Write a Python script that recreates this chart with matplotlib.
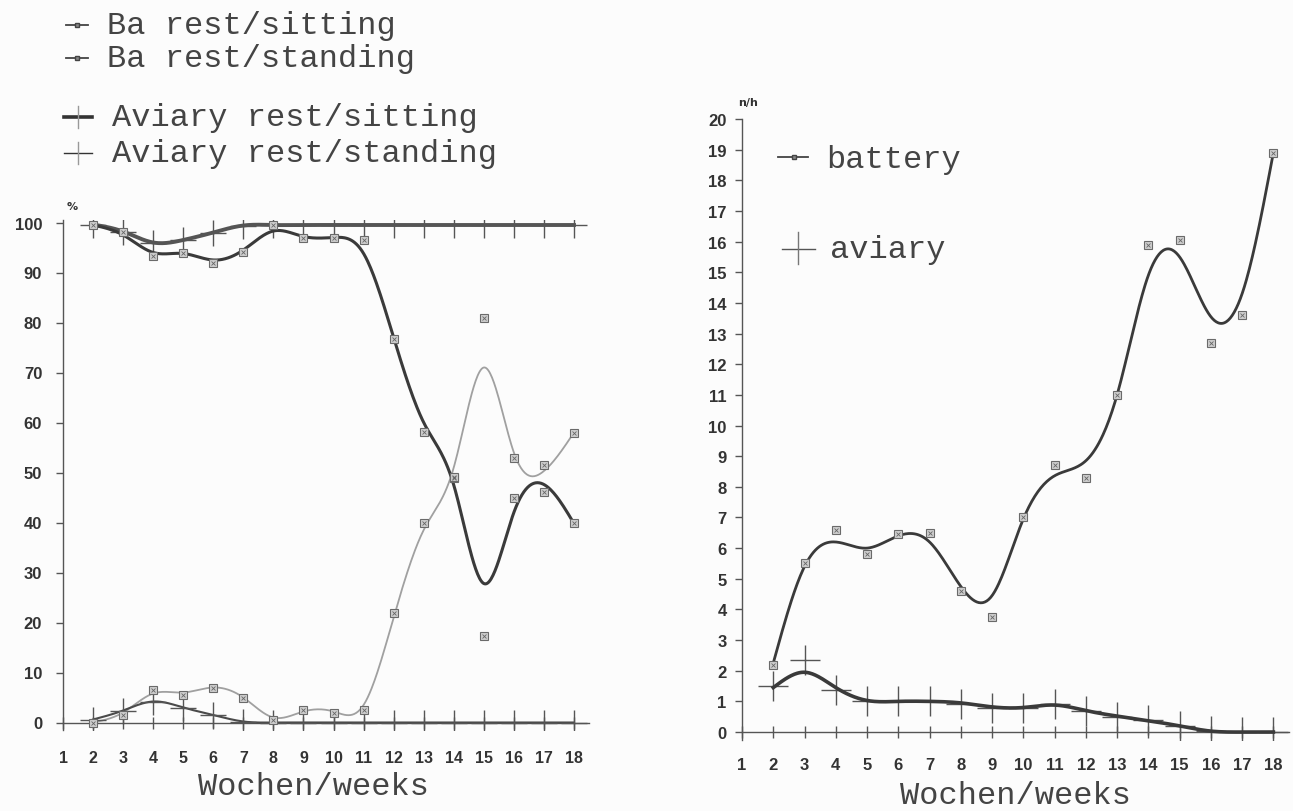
import numpy as np
import matplotlib
matplotlib.use("Agg")
import matplotlib.pyplot as plt
from matplotlib.lines import Line2D

weeks = list(range(2, 19))

# resting behaviour, % of observations (left panel)
ba_sit_pts = [99.5, 98.2, 93.4, 94.0, 92.0, 94.2, 99.5, 97.0, 97.0, 96.6, 76.8, 58.2, 49.2, 17.4, 45.0, 46.2, 40.0]
ba_sit_fit = [99.5, 97.5, 94.0, 93.8, 92.5, 94.5, 98.3, 97.2, 97.0, 93.8, 77.0, 60.0, 47.5, 27.8, 42.0, 47.6, 39.8]
ba_std_pts = [0.0, 1.5, 6.5, 5.5, 7.0, 5.0, 0.5, 2.5, 2.0, 2.5, 22.0, 40.0, 49.0, 81.0, 53.0, 51.5, 58.0]
ba_std_fit = [0.0, 2.0, 5.8, 6.0, 7.0, 5.0, 1.0, 2.2, 2.2, 3.5, 21.0, 38.5, 51.0, 71.0, 54.0, 50.3, 58.0]
av_sit = [99.6, 98.2, 96.0, 96.5, 98.0, 99.4, 99.5, 99.5, 99.5, 99.5, 99.5, 99.5, 99.5, 99.5, 99.5, 99.5, 99.5]
av_std = [0.6, 2.4, 4.2, 3.0, 1.5, 0.2, 0.0, 0.0, 0.0, 0.0, 0.0, 0.0, 0.0, 0.0, 0.0, 0.0, 0.0]

# events per hour (right panel)
bat_pts = [2.2, 5.5, 6.6, 5.8, 6.45, 6.5, 4.6, 3.75, 7.0, 8.7, 8.3, 11.0, 15.9, 16.05, 12.7, 13.6, 18.9]
bat_fit = [2.25, 5.4, 6.2, 6.0, 6.4, 6.2, 4.75, 4.45, 6.95, 8.36, 8.85, 11.0, 14.9, 15.5, 13.55, 14.3, 18.9]
avr_pts = [1.5, 2.35, 1.38, 1.0, 1.0, 1.0, 0.92, 0.8, 0.8, 0.9, 0.7, 0.5, 0.38, 0.2, 0.05, 0.0, 0.0]
avr_fit = [1.45, 1.95, 1.45, 1.03, 1.0, 1.0, 0.95, 0.82, 0.8, 0.88, 0.7, 0.52, 0.37, 0.2, 0.03, 0.0, 0.0]


def smooth(x, y, n=500):
    # natural cubic spline through the given values
    x = np.asarray(x, float)
    a = np.asarray(y, float)
    m = len(x)
    h = np.diff(x)
    A = np.zeros((m, m))
    r = np.zeros(m)
    A[0, 0] = A[-1, -1] = 1
    for i in range(1, m - 1):
        A[i, i - 1] = h[i - 1]
        A[i, i] = 2 * (h[i - 1] + h[i])
        A[i, i + 1] = h[i]
        r[i] = 3 * ((a[i + 1] - a[i]) / h[i] - (a[i] - a[i - 1]) / h[i - 1])
    c = np.linalg.solve(A, r)
    b = (a[1:] - a[:-1]) / h - h * (2 * c[:-1] + c[1:]) / 3
    d = (c[1:] - c[:-1]) / (3 * h)
    xs = np.linspace(x[0], x[-1], n)
    k = np.clip(np.searchsorted(x, xs) - 1, 0, m - 2)
    t = xs - x[k]
    return xs, a[k] + b[k] * t + c[k] * t ** 2 + d[k] * t ** 3


def boxes(ax, x, y):
    ax.plot(x, y, ls="none", marker="s", ms=6, mfc="#cfcfcf", mec="#6a6a6a", mew=0.8, zorder=5)
    ax.plot(x, y, ls="none", marker="x", ms=3.5, mec="#666666", mew=0.6, zorder=6)


mono = "Liberation Mono"
txt = "#444444"
W, H = 1293, 812
fig = plt.figure(figsize=(W / 100, H / 100), dpi=100, facecolor="#fcfcfc")


def px_axes(x0, x1, y_top, y_bot):
    return fig.add_axes([x0 / W, 1 - y_bot / H, (x1 - x0) / W, (y_bot - y_top) / H])


def style(ax):
    ax.set_facecolor("none")
    for s in ("top", "right"):
        ax.spines[s].set_visible(False)
    for s in ("left", "bottom"):
        ax.spines[s].set_color("#555555")
        ax.spines[s].set_linewidth(1.0)
    ax.spines["bottom"].set_position(("data", 0))
    ax.set_xlim(1, 18.5)
    ax.set_xticks(range(1, 19))
    for lab in ax.get_xticklabels() + ax.get_yticklabels():
        lab.set_fontfamily("Liberation Sans")
        lab.set_fontweight("bold")
        lab.set_color("#333333")


# ---- left panel: resting posture ----
ax1 = px_axes(63, 589, 221, 731)
ax1.set_ylim(-1.5, 100.5)
ax1.set_yticks(range(0, 101, 10))
style(ax1)
ax1.tick_params(axis="y", direction="out", length=5, width=1, color="#555555", labelsize=12, pad=10)
ax1.tick_params(axis="x", direction="inout", length=8, width=1, color="#555555", labelsize=11.5, pad=16)

xs, ys = smooth(weeks, ba_std_fit)
ax1.plot(xs, ys, color="#a0a0a0", lw=1.3, zorder=3)
boxes(ax1, weeks, ba_std_pts)
xs, ys = smooth(weeks, ba_sit_fit)
ax1.plot(xs, ys, color="#3a3a3a", lw=2.2, zorder=4)
boxes(ax1, weeks, ba_sit_pts)
xs, ys = smooth(weeks, av_sit)
ax1.plot(xs, ys, color="#555555", lw=2.8, zorder=3)
ax1.plot(weeks, av_sit, ls="none", marker="+", ms=19, mew=1.0, color="#555555", zorder=3)
xs, ys = smooth(weeks, av_std)
ax1.plot(xs, ys, color="#4a4a4a", lw=1.5, zorder=3)
ax1.plot(weeks, av_std, ls="none", marker="+", ms=19, mew=1.0, color="#555555", zorder=3)

fig.text(72 / W, 1 - 207 / H, "%", fontsize=8, fontweight="bold", color="#333333", ha="center", va="center")
fig.text(313 / W, 1 - 787 / H, "Wochen/weeks", family=mono, fontsize=23, color=txt, ha="center", va="center")

# legend of the left panel
legend_left = [
    ("Ba rest/sitting", 26, "box"),
    ("Ba rest/standing", 59, "box"),
    ("Aviary rest/sitting", 118, "thick"),
    ("Aviary rest/standing", 154, "plus"),
]
for label, yy, kind in legend_left:
    yf = 1 - yy / H
    if kind == "box":
        fig.add_artist(Line2D([66 / W, 88 / W], [yf, yf], color="#444444", lw=1.3))
        fig.add_artist(Line2D([77 / W], [yf], marker="s", ms=3.5, mfc="#888888", mec="#444444", ls="none"))
        fig.text(107 / W, yf, label, family=mono, fontsize=23, color=txt, va="center")
    else:
        fig.add_artist(Line2D([64 / W, 92 / W], [yf, yf], color="#333333", lw=2.6 if kind == "thick" else 1.0))
        fig.add_artist(Line2D([78 / W, 78 / W], [yf - 11 / H, yf + 11 / H], color="#999999", lw=1.0))
        fig.text(112 / W, yf, label, family=mono, fontsize=23, color=txt, va="center")

# ---- right panel: event frequency ----
ax2 = px_axes(742, 1289, 120, 740.7)
ax2.set_ylim(-0.25, 20)
ax2.set_yticks(range(0, 21))
style(ax2)
ax2.tick_params(axis="y", direction="out", length=5, width=1, color="#555555", labelsize=12, pad=6)
ax2.tick_params(axis="x", direction="inout", length=8, width=1, color="#555555", labelsize=12, pad=14)

xs, ys = smooth(weeks, bat_fit)
ax2.plot(xs, ys, color="#3a3a3a", lw=2.0, zorder=4)
boxes(ax2, weeks, bat_pts)
xs, ys = smooth(weeks, avr_fit)
ax2.plot(xs, ys, color="#3a3a3a", lw=2.6, zorder=4)
ax2.plot(weeks, avr_pts, ls="none", marker="+", ms=22, mew=1.0, color="#555555", zorder=3)

fig.text(748 / W, 1 - 103 / H, "n/h", fontsize=8, fontweight="bold", color="#333333", ha="center", va="center")
fig.text(1015 / W, 1 - 796 / H, "Wochen/weeks", family=mono, fontsize=23, color=txt, ha="center", va="center")

yf = 1 - 158 / H
fig.add_artist(Line2D([778 / W, 808 / W], [yf, yf], color="#444444", lw=1.3))
fig.add_artist(Line2D([794 / W], [yf], marker="s", ms=3.5, mfc="#888888", mec="#444444", ls="none"))
fig.text(826 / W, 1 - 160 / H, "battery", family=mono, fontsize=23, color=txt, va="center")
yf = 1 - 250 / H
fig.add_artist(Line2D([782 / W, 815 / W], [yf, yf], color="#555555", lw=1.0))
fig.add_artist(Line2D([798 / W, 798 / W], [1 - 233 / H, 1 - 265 / H], color="#777777", lw=1.0))
fig.text(830 / W, 1 - 250 / H, "aviary", family=mono, fontsize=23, color=txt, va="center")

fig.savefig("out.png", dpi=100, facecolor=fig.get_facecolor())
